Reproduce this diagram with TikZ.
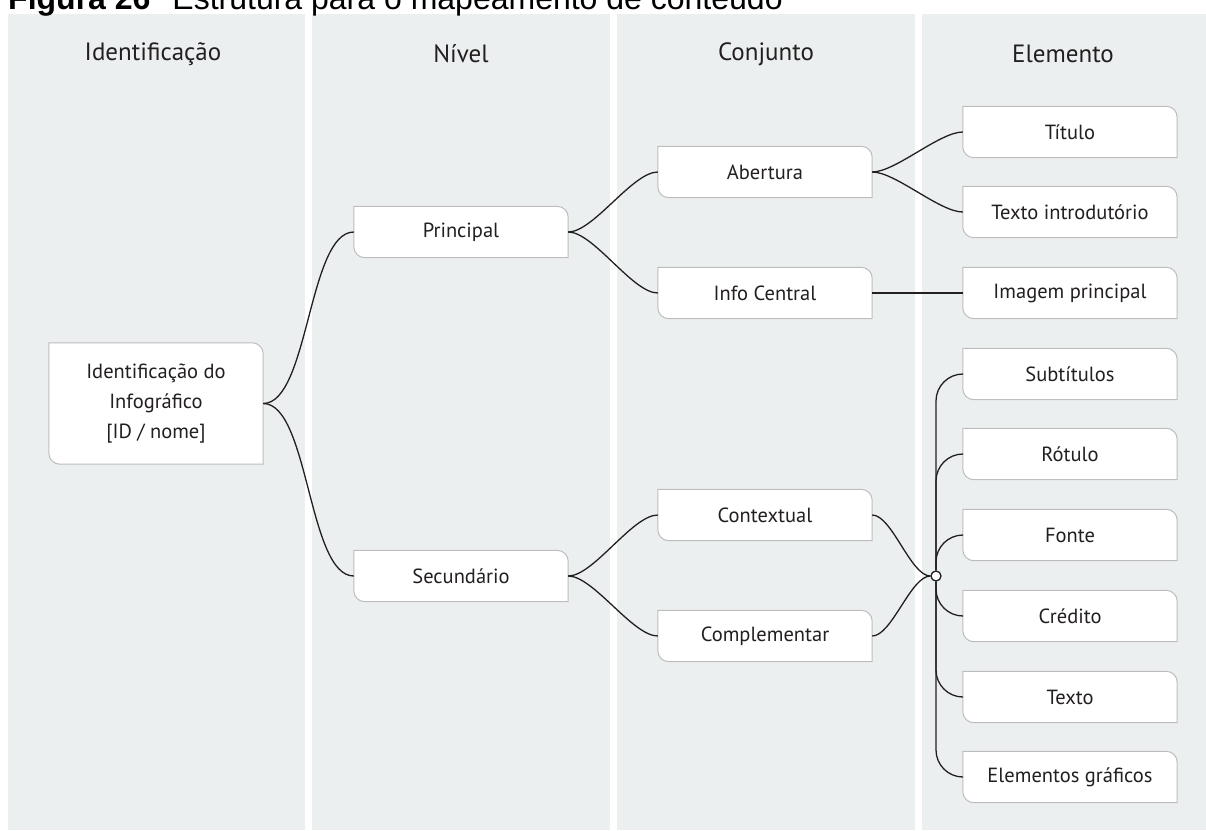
\documentclass[tikz,border=0pt]{standalone}
\usepackage{fontspec}
\setmainfont{PT Sans}
\newfontfamily\captionfont{Liberation Sans}
\usetikzlibrary{arrows.meta}
\definecolor{column}{HTML}{ECEFF0}
\definecolor{cardline}{HTML}{BDBDBD}
\definecolor{ink}{HTML}{231F20}
\pgfdeclarelayer{columns}
\pgfdeclarelayer{cards}
\pgfsetlayers{columns,cards,main}

\begin{document}
\begin{tikzpicture}[
      x=1pt, y=-1pt,
      card/.style={minimum width=214pt, minimum height=51pt, inner sep=0pt,
                   font=\fontsize{20.5}{30}\selectfont, text=ink, align=center},
      head/.style={font=\fontsize{25}{28}\selectfont, text=ink},
      branch/.style={line width=1.3pt, ink, out=0, in=180, looseness=0.6},
      stem/.style={line width=1.3pt, ink, rounded corners=27pt},
      hubdot/.style={circle, draw=ink, fill=white, line width=1.3pt,
                     minimum size=10pt, inner sep=0pt}
    ]
      \useasboundingbox (0,0) rectangle (1206,830);

      % Caption (cut at the top)
      \node[anchor=base west, inner sep=0pt, font=\captionfont\fontsize{32}{36}\selectfont] (caption) at (8,9)
        {\textbf{Figura 26}\hspace{22pt}Estrutura para o mapeamento de conteúdo};

      % Columns
      \begin{pgfonlayer}{columns}
        \fill[column] (8,14) rectangle (305,830);
        \fill[column] (312,14) rectangle (610,830);
        \fill[column] (617,14) rectangle (915,830);
        \fill[column] (922,14) rectangle (1206,830);
      \end{pgfonlayer}

      % Headers
      \node[head] (hident) at (153,54) {Identificação};
      \node[head] (hnivel) at (461,54) {Nível};
      \node[head] (hconj) at (766,54) {Conjunto};
      \node[head] (helem) at (1063,54) {Elemento};

      % Cards
      \node[card, minimum height=121pt] (ident) at (156,403.5) {Identificação do\\Infográfico\\{[ID / nome]}};
      \node[card] (principal) at (461,232) {Principal};
      \node[card] (secundario) at (461,576) {Secundário};
      \node[card] (abertura) at (765,172) {Abertura};
      \node[card] (infocentral) at (765,293) {Info Central};
      \node[card] (contextual) at (765,515) {Contextual};
      \node[card] (complementar) at (765,636) {Complementar};
      \node[card] (titulo) at (1070,132) {Título};
      \node[card] (textointro) at (1070,212) {Texto introdutório};
      \node[card] (imagem) at (1070,293) {Imagem principal};
      \node[card] (subtitulos) at (1070,374) {Subtítulos};
      \node[card] (rotulo) at (1070,454) {Rótulo};
      \node[card] (fonte) at (1070,535) {Fonte};
      \node[card] (credito) at (1070,616) {Crédito};
      \node[card] (texto) at (1070,697) {Texto};
      \node[card] (elementos) at (1070,777) {Elementos gráficos};

      \begin{pgfonlayer}{cards}
        \foreach \n in {ident,principal,secundario,abertura,infocentral,contextual,
                        complementar,titulo,textointro,imagem,subtitulos,rotulo,
                        fonte,credito,texto,elementos}
          \filldraw[fill=white, draw=cardline, line width=1pt]
            (\n.north west) -- ([xshift=-11pt]\n.north east)
            arc[start angle=90, end angle=0, radius=11pt]
            -- (\n.south east) -- ([xshift=11pt]\n.south west)
            arc[start angle=270, end angle=180, radius=11pt] -- cycle;
      \end{pgfonlayer}

      % Links
      \draw[branch] (ident.east) to (principal.west);
      \draw[branch] (ident.east) to (secundario.west);
      \draw[branch] (principal.east) to (abertura.west);
      \draw[branch] (principal.east) to (infocentral.west);
      \draw[branch] (abertura.east) to (titulo.west);
      \draw[branch] (abertura.east) to (textointro.west);
      \draw[line width=1.3pt, ink] (infocentral.east) -- (imagem.west);
      \draw[branch] (secundario.east) to (contextual.west);
      \draw[branch] (secundario.east) to (complementar.west);

      % Hub
      \node[hubdot] (hub) at (936,576) {};
      \draw[branch] (contextual.east) to (hub.west);
      \draw[branch] (complementar.east) to (hub.west);
      \foreach \n in {subtitulos,rotulo,fonte}
        \draw[stem] (hub.north) |- (\n.west);
      \foreach \n in {credito,texto,elementos}
        \draw[stem] (hub.south) |- (\n.west);
    \end{tikzpicture}
\end{document}
